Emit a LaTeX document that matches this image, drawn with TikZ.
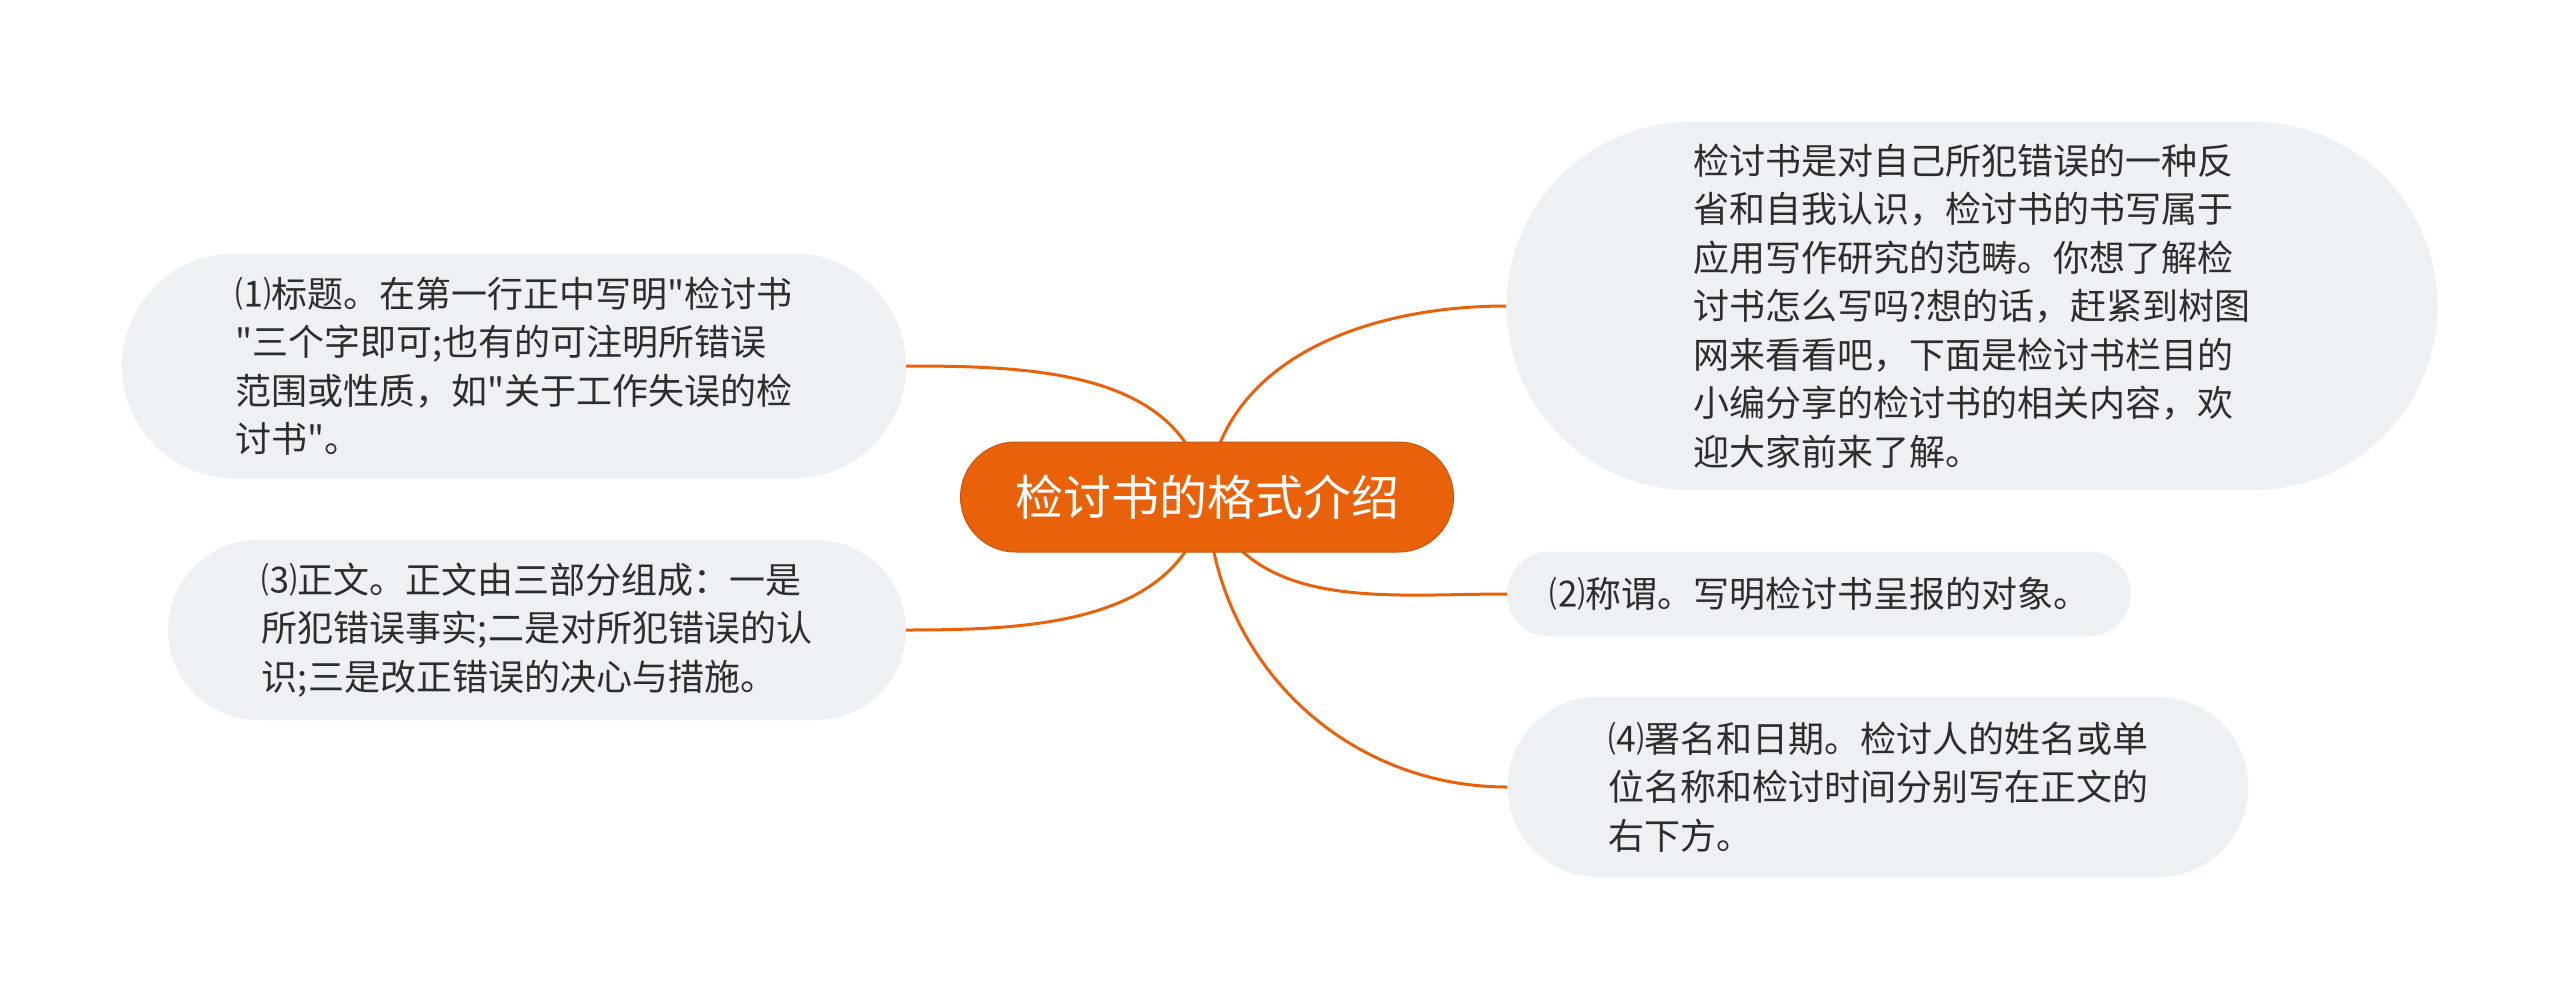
\documentclass[tikz,border=0pt]{standalone}
\usepackage{fontspec}
\setmainfont{Noto Sans CJK SC}[Ligatures=TeXOff]
\usetikzlibrary{shapes.misc,backgrounds}
\definecolor{mainorange}{RGB}{233,98,10}
\definecolor{leafgray}{RGB}{238,241,244}
\definecolor{leaftext}{RGB}{45,45,45}

\begin{document}
\begin{tikzpicture}[x=1pt, y=1pt,
        topic/.style={rounded rectangle, fill=mainorange, draw=mainorange!85!black, line width=1pt,
            text=white, font=\fontsize{48}{58}\selectfont, minimum width=493pt, minimum height=110pt, inner sep=0pt},
        leaf/.style={rounded rectangle, fill=leafgray, text=leaftext, align=left,
            font=\fontsize{36}{48.5}\selectfont, inner sep=0pt},
        branch/.style={draw=mainorange, line width=3pt}]
        \useasboundingbox (0,0) rectangle (2560,-996);

        \node[topic] (main) at (1207,-497) {检讨书的格式介绍};

        % left side
        \node[leaf, minimum width=784pt, minimum height=225pt] (title) at (514,-366)
            {⑴标题。在第一行正中写明"检讨书\\"三个字即可;也有的可注明所错误\\范围或性质，如"关于工作失误的检\\讨书"。};
        \node[leaf, minimum width=738pt, minimum height=180pt] (body) at (537,-630)
            {⑶正文。正文由三部分组成：一是\\所犯错误事实;二是对所犯错误的认\\识;三是改正错误的决心与措施。};

        % right side
        \node[leaf, minimum width=931pt, minimum height=368pt] (intro) at (1972,-306)
            {检讨书是对自己所犯错误的一种反\\省和自我认识，检讨书的书写属于\\应用写作研究的范畴。你想了解检\\讨书怎么写吗?想的话，赶紧到树图\\网来看看吧，下面是检讨书栏目的\\小编分享的检讨书的相关内容，欢\\迎大家前来了解。};
        \node[leaf, minimum width=624pt, minimum height=85pt] (address) at (1819,-594)
            {⑵称谓。写明检讨书呈报的对象。};
        \node[leaf, minimum width=741pt, minimum height=180pt] (sign) at (1878,-787)
            {⑷署名和日期。检讨人的姓名或单\\位名称和检讨时间分别写在正文的\\右下方。};

        \begin{scope}[on background layer]
            \foreach \leafnode/\outangle/\inangle/\side in {title/100/0/east, body/260/0/east,
                intro/85/180/west, address/-70/180/west, sign/-88/180/west} {
                \draw[branch] (main.center) to[out=\outangle, in=\inangle] (\leafnode.\side);
            }
        \end{scope}
    \end{tikzpicture}
\end{document}
